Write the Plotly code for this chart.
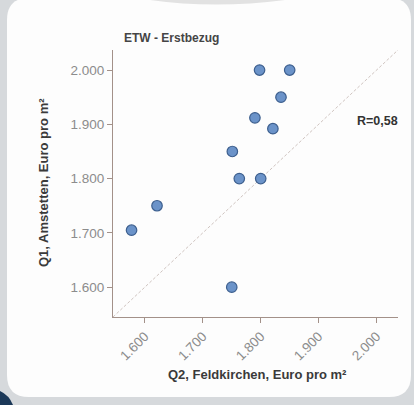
import plotly.graph_objects as go

# Data
feldkirchen = [1577, 1621, 1751, 1763, 1800, 1750, 1790, 1821, 1835, 1798, 1850]
amstetten = [1705, 1750, 1850, 1800, 1800, 1600, 1912, 1892, 1950, 2000, 2000]
tick_vals = [1600, 1700, 1800, 1900, 2000]
tick_text = ["1.600", "1.700", "1.800", "1.900", "2.000"]
axis_range = [1545, 2037]
title_text = "ETW - Erstbezug"
r_text = "R=0,58"
x_title = "Q2, Feldkirchen, Euro pro m²"
y_title = "Q1, Amstetten, Euro pro m²"

W, H = 414, 405
ML, MR, MT, MB = 113, 16, 50, 88
PW, PH = W - ML - MR, H - MT - MB


def px(x):
    return (x - ML) / PW


def py(y):
    return (H - MB - y) / PH


def rr_path(x0, y0, x1, y1, r):
    pts = [
        f"M {px(x0 + r)},{py(y0)}",
        f"L {px(x1 - r)},{py(y0)}",
        f"Q {px(x1)},{py(y0)} {px(x1)},{py(y0 + r)}",
        f"L {px(x1)},{py(y1 - r)}",
        f"Q {px(x1)},{py(y1)} {px(x1 - r)},{py(y1)}",
        f"L {px(x0 + r)},{py(y1)}",
        f"Q {px(x0)},{py(y1)} {px(x0)},{py(y1 - r)}",
        f"L {px(x0)},{py(y0 + r)}",
        f"Q {px(x0)},{py(y0)} {px(x0 + r)},{py(y0)}",
        "Z",
    ]
    return " ".join(pts)


fig = go.Figure()

# diagonal y = x reference line
fig.add_trace(go.Scatter(
    x=axis_range, y=axis_range, mode="lines",
    line=dict(color="#cfc4c0", width=1, dash="3px,2px"),
    hoverinfo="skip", showlegend=False,
))

fig.add_trace(go.Scatter(
    x=feldkirchen, y=amstetten, mode="markers",
    marker=dict(size=10.5, color="#6b93c9", line=dict(color="#3d5f8e", width=1.2)),
    showlegend=False,
))

shapes = [
    # dark blue corner bottom-left
    dict(type="path", xref="paper", yref="paper", layer="below",
         path=f"M {px(0)},{py(391)} Q {px(9)},{py(395)} {px(13)},{py(405)} L {px(0)},{py(405)} Z",
         fillcolor="#1b3858", line=dict(width=0)),
    # white card
    dict(type="path", xref="paper", yref="paper", layer="below",
         path=rr_path(7, -2, 411, 397, 22),
         fillcolor="#fdfdfd", line=dict(width=0)),
    # faint shadow at top
    dict(type="path", xref="paper", yref="paper", layer="below",
         path=f"M {px(150)},{py(0)} Q {px(215)},{py(9)} {px(285)},{py(0)} Z",
         fillcolor="#e2e2e2", line=dict(width=0)),
]

annotations = [
    dict(text=f"<b>{title_text}</b>", xref="paper", yref="paper",
         x=px(122), y=py(38), xanchor="left", yanchor="middle", showarrow=False,
         font=dict(size=12, color="#454545")),
    dict(text=f"<b>{r_text}</b>", xref="paper", yref="paper",
         x=px(377), y=py(121), xanchor="center", yanchor="middle", showarrow=False,
         font=dict(size=12.5, color="#333333")),
    dict(text=f"<b>{y_title}</b>", xref="paper", yref="paper",
         x=px(43), y=py(183), xanchor="center", yanchor="middle", showarrow=False,
         textangle=-90, font=dict(size=13, color="#3a3a3a")),
    dict(text=f"<b>{x_title}</b>", xref="paper", yref="paper",
         x=px(257), y=py(374), xanchor="center", yanchor="middle", showarrow=False,
         font=dict(size=13, color="#3a3a3a")),
]

axis_common = dict(
    range=axis_range, tickvals=tick_vals, ticktext=tick_text,
    showgrid=False, zeroline=False, showline=True, linecolor="#a39189", linewidth=1.2,
    ticks="outside", ticklen=5, tickcolor="#a39189",
    tickfont=dict(family="Liberation Sans, Arial, sans-serif", size=13.5, color="#8c8c8c"),
)

fig.update_layout(
    width=W, height=H,
    margin=dict(l=ML, r=MR, t=MT, b=MB, autoexpand=False),
    paper_bgcolor="#d6d9dc", plot_bgcolor="rgba(0,0,0,0)",
    font=dict(family="Liberation Sans, Arial, sans-serif"),
    shapes=shapes, annotations=annotations,
    xaxis=dict(**axis_common, tickangle=-45),
    yaxis=dict(**axis_common),
)

fig.write_html("out.html", config={"displayModeBar": False},
               post_script="document.body.style.margin='0';")
